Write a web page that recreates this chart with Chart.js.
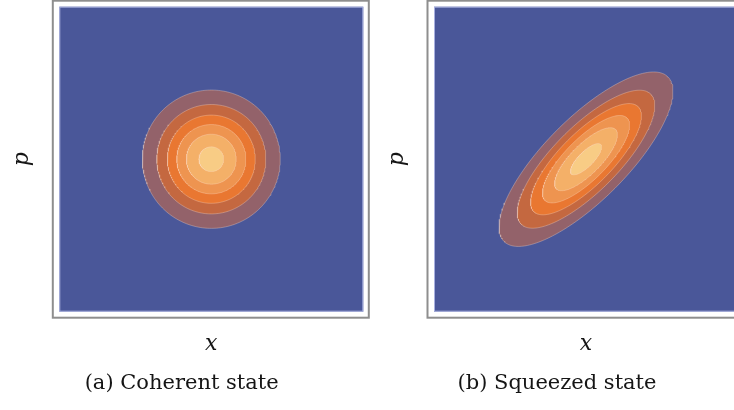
<!DOCTYPE html>
<html>
<head>
<meta charset="utf-8">
<script src="https://cdn.jsdelivr.net/npm/chart.js@4.4.1/dist/chart.umd.min.js"></script>
<style>
  html, body { margin: 0; padding: 0; background: #fff; overflow: hidden; width: 734px; height: 410px; }
  canvas { position: absolute; top: 0; }
  #coherent { left: 0; }
  #squeezed { left: 376px; }
</style>
</head>
<body>
<canvas id="coherent" width="376" height="410"></canvas>
<canvas id="squeezed" width="394" height="410"></canvas>
<script>
// Wigner function W(x,p) = (1/π)·exp(-(a²·e^(-2r) + b²·e^(2r))),
// a/b = coordinates along / across the squeezing direction.
const levels = [0.05, 0.10, 0.15, 0.20, 0.25, 0.30];
const bandColors = ['#93626A', '#C46840', '#E97731', '#EE9450', '#F4B068', '#F8CC85'];
const floorColor = '#4A5799';

const panelIds = ['coherent', 'squeezed'];
const squeezing = [0, 0.52];          // squeeze parameter r
const squeezeAngleDeg = [45, 45];     // direction of the long axis
const captions = ['(a) Coherent state', '(b) Squeezed state'];
const xTitle = 'x';
const yTitle = 'p';
const axisRange = [-3, 3];

// Closed contour W = level, sampled along the ellipse it traces.
function contour(level, r, angleDeg, n = 240) {
  const rho = Math.sqrt(-Math.log(Math.PI * level));
  const th = angleDeg * Math.PI / 180;
  const ca = Math.cos(th), sa = Math.sin(th);
  const pts = [];
  for (let i = 0; i <= n; i++) {
    const t = 2 * Math.PI * i / n;
    const a = rho * Math.exp(r) * Math.cos(t);
    const b = rho * Math.exp(-r) * Math.sin(t);
    pts.push({ x: a * ca - b * sa, y: a * sa + b * ca });
  }
  return pts;
}

// Plot floor, thin light rim and the grey frame around each panel.
const panelFrame = {
  id: 'panelFrame',
  beforeDatasetsDraw(chart) {
    const { ctx, chartArea: a } = chart;
    ctx.save();
    ctx.fillStyle = floorColor;
    ctx.fillRect(a.left, a.top, a.width, a.height);
    ctx.restore();
  },
  afterDatasetsDraw(chart) {
    const { ctx, chartArea: a } = chart;
    ctx.save();
    ctx.strokeStyle = 'rgba(178,186,232,0.9)';
    ctx.lineWidth = 1;
    ctx.strokeRect(a.left + 0.5, a.top + 0.5, a.width - 1, a.height - 1);
    ctx.strokeStyle = '#8e8e8e';
    ctx.lineWidth = 2;
    ctx.strokeRect(a.left - 6.5, a.top - 6, a.width + 12, a.height + 12);
    ctx.restore();
  }
};

const geometry = [
  { yWidth: 59.3, padRight: 12.7, pPad: 9.4 },
  { yWidth: 58,   padRight: 32,   pPad: 8.4 }
];

const axisFont = { family: 'DejaVu Serif', size: 22, style: 'italic' };

panelIds.forEach((id, k) => {
  const g = geometry[k];
  const datasets = levels.map((lv, i) => ({
    label: 'W = ' + lv.toFixed(2),
    data: contour(lv, squeezing[k], squeezeAngleDeg[k]),
    backgroundColor: bandColors[i],
    borderColor: 'rgba(255,226,206,0.45)',
    borderWidth: 0.7,
    fill: 'shape',
    pointRadius: 0,
    tension: 0,
    order: levels.length - i
  }));

  new Chart(document.getElementById(id), {
    type: 'line',
    data: { datasets },
    options: {
      responsive: false,
      animation: false,
      events: [],
      layout: { padding: { top: 6.7, right: g.padRight, bottom: 0, left: 0 } },
      plugins: {
        legend: { display: false },
        tooltip: { enabled: false },
        title: {
          display: true,
          text: captions[k],
          position: 'bottom',
          color: '#151515',
          font: { family: 'DejaVu Serif', size: 21, weight: 'normal' },
          padding: { top: 10, bottom: 13.4 }
        }
      },
      scales: {
        x: {
          type: 'linear', min: axisRange[0], max: axisRange[1],
          grid: { display: false }, border: { display: false },
          ticks: { display: false },
          title: { display: true, text: xTitle, color: '#151515', font: axisFont, padding: { top: 0, bottom: 3.8 } },
          afterFit: s => { s.height = 49.7; }
        },
        y: {
          type: 'linear', min: axisRange[0], max: axisRange[1],
          grid: { display: false }, border: { display: false },
          ticks: { display: false },
          title: { display: true, text: yTitle, color: '#151515', font: axisFont, padding: { top: g.pPad, bottom: 0 } },
          afterFit: s => { s.width = g.yWidth; }
        }
      }
    },
    plugins: [panelFrame]
  });
});
</script>
</body>
</html>
